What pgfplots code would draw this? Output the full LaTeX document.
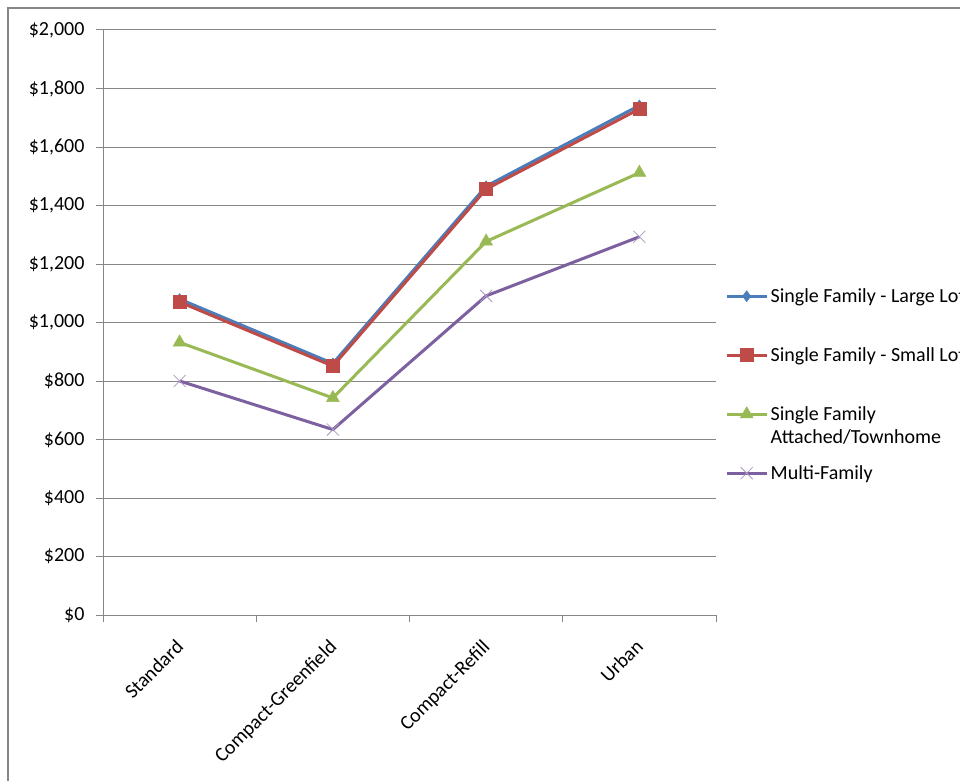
\documentclass[border=0pt]{standalone}
\usepackage{pgfplots}
\pgfplotsset{compat=1.18}
\usepackage{fontspec}
\setmainfont{Carlito}
\definecolor{sblue}{HTML}{4A7EBB}
\definecolor{sred}{HTML}{BE4B48}
\definecolor{sgreen}{HTML}{98B954}
\definecolor{spurple}{HTML}{7D60A0}
\definecolor{gridgray}{HTML}{868686}
\newcommand\cf{\fontsize{20}{23.2}\selectfont}
\begin{document}
\begin{tikzpicture}
\useasboundingbox (0,0) rectangle (960pt,780pt);
\clip (0,0) rectangle (960pt,780pt);
\draw[color=gridgray, line width=1.5pt] (8pt,-5pt) -- (8pt,772pt) -- (970pt,772pt);
\begin{axis}[
  at={(103pt,165pt)}, anchor=south west,
  scale only axis, width=613pt, height=585pt,
  xmin=-0.5, xmax=3.5, ymin=0, ymax=2000,
  axis x line*=bottom, axis y line*=left,
  axis line style={gridgray, line width=1pt},
  xtick={0,1,2,3},
  xticklabels={Standard, Compact-Greenfield, Compact-Refill, Urban},
  minor xtick={-0.5,0.5,1.5,2.5,3.5},
  ytick={0,200,...,2000},
  yticklabels={\$0,\$200,\$400,\$600,\$800,\$1{,}000,\$1{,}200,\$1{,}400,\$1{,}600,\$1{,}800,\$2{,}000},
  ymajorgrids, major grid style={gridgray, line width=1pt},
  tick align=outside,
  major tick length=7pt, minor tick length=7pt,
  tick style={gridgray, line width=1pt},
  major x tick style={draw=none},
  every tick label/.append style={font=\cf, text=black},
  yticklabel style={xshift=-8pt},
  xticklabel style={xshift=-5pt, yshift=-11.5pt, rotate=45, anchor=north east},
  legend cell align=left,
  legend style={at={(1,0.5957)}, anchor=north west, xshift=9pt, draw=none, fill=none,
     inner sep=0pt, row sep=0pt, font=\cf,
     nodes={align=left, minimum height=59pt, inner xsep=2.5pt}},
  legend image code/.code={\draw[mark repeat=2, mark phase=2, #1] plot coordinates {(0pt,0pt) (20pt,0pt) (40pt,0pt)};},
]
\addplot[sblue, line width=3pt, mark=diamond*, mark size=5.5pt, mark options={solid, fill=sblue, draw=sblue, line width=0.5pt}]
  coordinates {(0,1080) (1,860) (2,1466) (3,1742)};
\addlegendentry{Single Family - Large Lot}
\addplot[sred, line width=3pt, mark=square*, mark size=6.5pt, mark options={solid, fill=sred, draw=sred, line width=0.5pt}]
  coordinates {(0,1070) (1,851) (2,1456) (3,1730)};
\addlegendentry{Single Family - Small Lot}
\addplot[sgreen, line width=3pt, mark=triangle*, mark size=7.5pt, mark options={solid, fill=sgreen, draw=sgreen, line width=0.5pt}]
  coordinates {(0,932) (1,742) (2,1277) (3,1512)};
\addlegendentry{\smash{\raisebox{-7pt}{\begin{tabular}[t]{@{}l@{}}Single Family\\Attached/Townhome\end{tabular}}}}
\addplot[spurple, line width=3pt, mark=x, mark size=8.5pt, mark options={solid, draw=spurple!65, line width=0.8pt}]
  coordinates {(0,800) (1,634) (2,1091) (3,1293)};
\addlegendentry{Multi-Family}
\end{axis}
\end{tikzpicture}
\end{document}
